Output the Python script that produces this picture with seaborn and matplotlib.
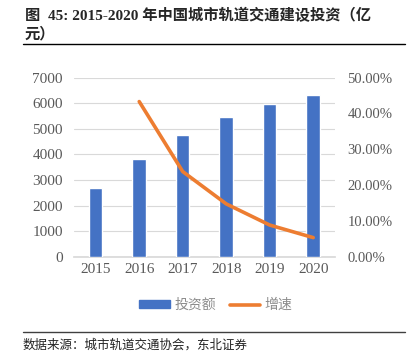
import matplotlib
matplotlib.use("Agg")
import matplotlib.pyplot as plt
import seaborn as sns
import pandas as pd
from matplotlib.ticker import FuncFormatter
from matplotlib.lines import Line2D
from matplotlib.patches import Patch

years = ["2015", "2016", "2017", "2018", "2019", "2020"]
invest = [2680, 3840, 4750, 5470, 5980, 6300]
growth = [None, 0.433, 0.238, 0.148, 0.089, 0.054]

df = pd.DataFrame({"year": years, "invest": invest, "growth": growth})

sns.set_theme(style="white")
plt.rcParams['font.family'] = ['Liberation Serif', 'Noto Sans CJK SC']

fig = plt.figure(figsize=(4.11, 3.54), dpi=100)
ax = fig.add_axes([0.180, 0.274, 0.635, 0.507])

sns.barplot(data=df, x="year", y="invest", color="#4472C4", width=0.31,
            saturation=1, ax=ax, zorder=3)
ax.set_ylim(0, 7000)
ax.set_yticks(range(0, 7001, 1000))
ax.set_xlim(-0.5, 5.5)
ax.yaxis.grid(True, color="#D9D9D9", linewidth=0.8)
ax.set_axisbelow(True)
ax.set_xlabel("")
ax.set_ylabel("")
for s in ["top", "right", "left"]:
    ax.spines[s].set_visible(False)
ax.spines["bottom"].set_color("#D9D9D9")
ax.tick_params(axis="y", colors="#595959", labelsize=11, length=0, pad=8)
ax.tick_params(axis="x", colors="#595959", labelsize=11, length=0, pad=4)

ax2 = ax.twinx()
sns.lineplot(x=list(range(len(years))), y=growth, color="#ED7D31", linewidth=2.6,
             ax=ax2, zorder=4)
ax2.set_ylim(0, 0.5)
ax2.set_yticks([0, 0.1, 0.2, 0.3, 0.4, 0.5])
ax2.yaxis.set_major_formatter(FuncFormatter(lambda v, p: f"{v*100:.2f}%"))
for s in ["top", "right", "left", "bottom"]:
    ax2.spines[s].set_visible(False)
ax2.tick_params(axis="y", colors="#595959", labelsize=10.5, length=0, pad=9)
ax2.set_ylabel("")

handles = [Patch(color="#4472C4", label="投资额"),
           Line2D([0], [0], color="#ED7D31", linewidth=2.6, label="增速")]
fig.legend(handles=handles, loc="center", bbox_to_anchor=(0.525, 0.138), ncol=2,
           frameon=False, prop={"family": "Noto Sans CJK SC", "size": 10},
           labelcolor="#8C8C8C", handlelength=2.2, handleheight=0.5,
           columnspacing=1.0, handletextpad=0.3)

fig.text(0.060, 0.955, "图  45: 2015-2020 年中国城市轨道交通建设投资（亿",
         fontsize=11, fontweight="bold", va="center",
         family=["Liberation Serif", "Noto Sans CJK SC"])
fig.text(0.060, 0.905, "元）", fontsize=11, fontweight="bold", va="center",
         family=["Noto Sans CJK SC"])
fig.add_artist(Line2D([0.055, 0.985], [0.876, 0.876], color="black", linewidth=1))
fig.add_artist(Line2D([0.055, 0.985], [0.062, 0.062], color="#404040", linewidth=1))
fig.text(0.055, 0.025, "数据来源：城市轨道交通协会，东北证券", fontsize=9,
         va="center", family=["Noto Sans CJK SC"], color="#222222")

fig.savefig("out.png", dpi=100)
